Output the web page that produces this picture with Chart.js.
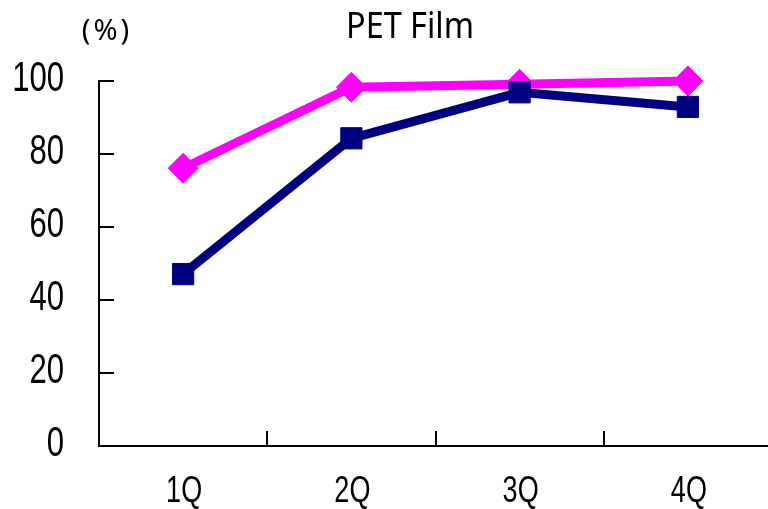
<!DOCTYPE html>
<html>
<head>
<meta charset="utf-8">
<script src="https://cdn.jsdelivr.net/npm/chart.js@4"></script>
<style>
  html, body { margin: 0; padding: 0; background: #fff; overflow: hidden; }
  #wrap { width: 788px; height: 509px; }
</style>
</head>
<body>
<div id="wrap"><canvas id="c" width="788" height="509"></canvas></div>
<script>
// chart data
var categories = ['1Q', '2Q', '3Q', '4Q'];
var magentaValues = [76.1, 98.3, 99.1, 100];
var navyValues = [47.1, 84.3, 96.9, 92.9];
var yTicks = [0, 20, 40, 60, 80, 100];
var titleText = 'PET Film';
var unitText = '(%)';

var labelFont = '"Liberation Sans", Arial, sans-serif';
var titleFont = '"Noto Sans", "Open Sans", sans-serif';

// draw text squeezed horizontally (the original uses a narrow font)
function narrowText(ctx, text, x, y, font, sx, align) {
  ctx.save();
  ctx.translate(x, y);
  ctx.scale(sx, 1);
  ctx.font = font;
  ctx.textAlign = align;
  ctx.textBaseline = 'alphabetic';
  ctx.fillText(text, 0, 0);
  ctx.restore();
}

// inward tick marks, tick labels, title texts
var decor = {
  id: 'decor',
  beforeDatasetsDraw: function(chart) {
    var ctx = chart.ctx;
    var xs = chart.scales.x, ys = chart.scales.y;
    var area = chart.chartArea;
    ctx.save();
    ctx.strokeStyle = '#000';
    ctx.lineWidth = 2;
    ctx.beginPath();
    ys.ticks.forEach(function(t, i) {
      var y = Math.round(ys.getPixelForTick(i));
      ctx.moveTo(area.left, y);
      ctx.lineTo(area.left + 15, y);
    });
    for (var i = 1; i < categories.length; i++) {
      var x = Math.round((xs.getPixelForTick(i - 1) + xs.getPixelForTick(i)) / 2);
      ctx.moveTo(x, area.bottom);
      ctx.lineTo(x, area.bottom - 15);
    }
    ctx.stroke();

    ctx.fillStyle = '#000';
    // y tick labels
    ys.ticks.forEach(function(t, i) {
      narrowText(ctx, String(t.value), 64, ys.getPixelForTick(i) + 10, '42px ' + labelFont, 0.74, 'right');
    });
    // x tick labels
    xs.ticks.forEach(function(t, i) {
      narrowText(ctx, xs.getLabelForValue(t.value), xs.getPixelForTick(i) + 1, 502, '36px ' + labelFont, 0.75, 'center');
    });
    // title and unit
    narrowText(ctx, titleText, 410, 38, '36px ' + titleFont, 0.9, 'center');
    ctx.save();
    ctx.letterSpacing = '3px';
    narrowText(ctx, unitText, 107, 40, '29px ' + titleFont, 1, 'center');
    ctx.restore();
    ctx.restore();
  }
};

new Chart(document.getElementById('c'), {
  type: 'line',
  data: {
    labels: categories,
    datasets: [
      {
        label: 'navy',
        data: navyValues,
        borderColor: '#000080',
        backgroundColor: '#000080',
        borderWidth: 9,
        pointStyle: 'rect',
        pointRadius: 15,
        pointBorderWidth: 1,
        tension: 0,
        clip: false
      },
      {
        label: 'magenta',
        data: magentaValues,
        borderColor: '#FF00FF',
        backgroundColor: '#FF00FF',
        borderWidth: 9,
        pointStyle: 'rectRot',
        pointRadius: 15,
        pointBorderWidth: 1,
        tension: 0,
        clip: false
      }
    ]
  },
  options: {
    responsive: false,
    animation: false,
    layout: { padding: { top: 81, right: 1, left: 0, bottom: 0 } },
    plugins: {
      legend: { display: false },
      title: { display: false },
      tooltip: { enabled: false }
    },
    scales: {
      x: {
        offset: true,
        grid: { display: false, drawTicks: false },
        border: { display: true, color: '#000', width: 2 },
        ticks: { display: false },
        afterFit: function(s) { s.height = 63; }
      },
      y: {
        min: 0,
        max: 100,
        afterBuildTicks: function(s) {
          s.ticks = yTicks.map(function(v) { return { value: v }; });
        },
        grid: { display: false, drawTicks: false },
        border: { display: true, color: '#000', width: 2 },
        ticks: { display: false },
        afterFit: function(s) { s.width = 99; }
      }
    }
  },
  plugins: [decor]
});
</script>
</body>
</html>
